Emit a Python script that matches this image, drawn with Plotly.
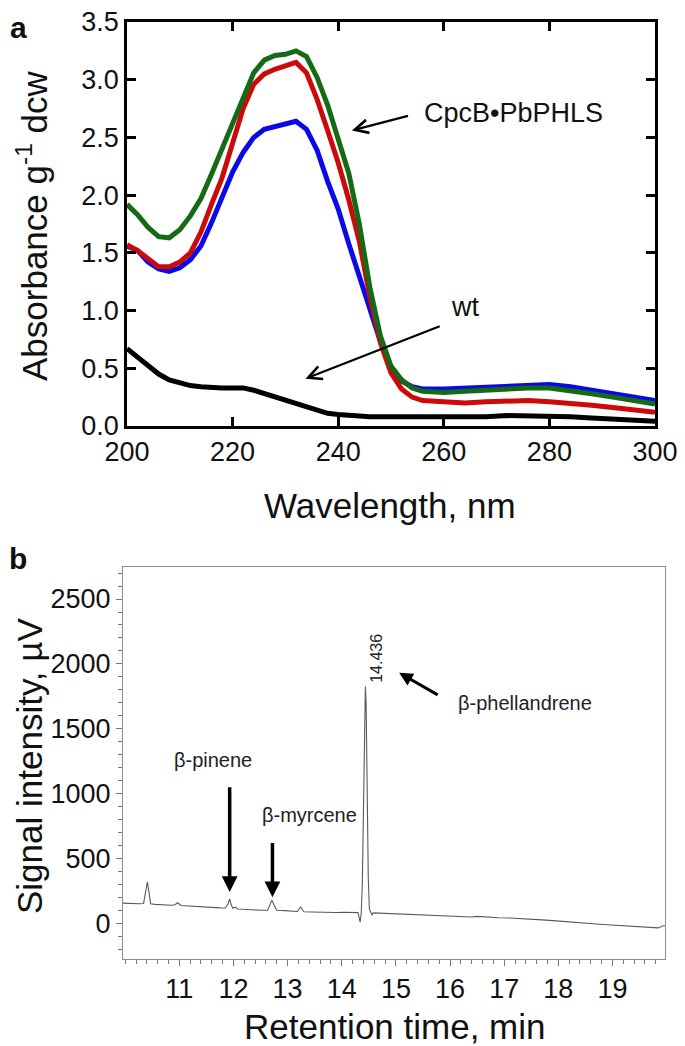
import plotly.graph_objects as go

# ---------------- Panel a data (absorbance spectra) ----------------
wavelength = [200, 202, 204, 206, 208, 210, 212, 214, 216, 218, 220, 222, 224, 226, 228,
              230, 232, 234, 236, 238, 240, 242, 244, 246, 248, 250, 252, 254, 256, 260,
              264, 268, 272, 276, 280, 284, 288, 292, 296, 300]
green_abs = [1.92, 1.83, 1.72, 1.64, 1.63, 1.70, 1.82, 1.97, 2.18, 2.40, 2.62, 2.84, 3.06, 3.17, 3.21,
             3.22, 3.25, 3.20, 3.02, 2.78, 2.50, 2.19, 1.75, 1.20, 0.78, 0.52, 0.40, 0.33, 0.30, 0.29,
             0.30, 0.31, 0.33, 0.33, 0.33, 0.31, 0.28, 0.25, 0.22, 0.19]
red_abs = [1.57, 1.52, 1.45, 1.38, 1.38, 1.42, 1.50, 1.68, 1.92, 2.15, 2.45, 2.75, 2.96, 3.05, 3.09,
           3.12, 3.15, 3.06, 2.83, 2.56, 2.28, 1.96, 1.60, 1.12, 0.72, 0.46, 0.32, 0.25, 0.22, 0.21,
           0.20, 0.21, 0.22, 0.22, 0.21, 0.20, 0.18, 0.16, 0.14, 0.12]
blue_abs = [1.56, 1.52, 1.42, 1.36, 1.34, 1.37, 1.44, 1.56, 1.76, 1.98, 2.20, 2.37, 2.50, 2.57, 2.59,
            2.61, 2.64, 2.57, 2.39, 2.12, 1.88, 1.58, 1.30, 1.00, 0.73, 0.50, 0.39, 0.34, 0.32, 0.32,
            0.33, 0.34, 0.35, 0.36, 0.36, 0.34, 0.31, 0.28, 0.25, 0.22]
wt_abs = [0.67, 0.60, 0.52, 0.45, 0.40, 0.37, 0.35, 0.34, 0.33, 0.33, 0.33, 0.33, 0.31, 0.28, 0.25,
          0.23, 0.20, 0.16, 0.13, 0.11, 0.10, 0.09, 0.09, 0.08, 0.08, 0.08, 0.07, 0.07, 0.07, 0.07,
          0.07, 0.08, 0.09, 0.09, 0.09, 0.08, 0.07, 0.06, 0.05, 0.04]

# ---------------- Panel b data (chromatogram) ----------------
ret_time = [9.95, 10.05, 10.15, 10.25, 10.34, 10.38, 10.41, 10.44, 10.47, 10.55, 10.65, 10.75, 10.85,
            10.92, 10.97, 11.03, 11.15, 11.3, 11.45, 11.6, 11.75, 11.85, 11.9, 11.93, 11.96, 11.99,
            12.03, 12.08, 12.2, 12.35, 12.5, 12.63, 12.68, 12.71, 12.75, 12.8, 12.95, 13.1, 13.18,
            13.24, 13.3, 13.45, 13.6, 13.75, 13.9, 14.05, 14.2, 14.3, 14.34, 14.36, 14.38, 14.40,
            14.42, 14.436, 14.45, 14.47, 14.49, 14.51, 14.54, 14.56, 14.58, 14.7, 14.85, 15.0,
            15.2, 15.4, 15.6, 15.8, 16.0, 16.2, 16.4, 16.5, 16.7, 16.9, 17.1, 17.3, 17.5, 17.7,
            17.9, 18.1, 18.3, 18.5, 18.7, 18.9, 19.1, 19.3, 19.5, 19.65, 19.75, 19.85, 19.92, 19.97]
signal = [155, 152, 150, 150, 152, 250, 318, 240, 150, 145, 142, 140, 138,
          142, 158, 137, 133, 130, 126, 122, 118, 117, 150, 188, 140, 116,
          124, 110, 106, 103, 100, 100, 150, 178, 140, 100, 97, 93, 90,
          126, 88, 86, 84, 86, 83, 85, 82, 82, 8, 80, 300, 1000,
          1650, 1825, 1700, 1000, 350, 110, 84, 62, 80, 78, 74, 70,
          66, 62, 60, 56, 52, 50, 48, 53, 45, 42, 40, 37, 32, 26,
          20, 12, 6, 0, -6, -12, -18, -22, -26, -32, -38, -36, -22, -20]

# ---------------- Axis ticks ----------------
abs_ticks = [0.0, 0.5, 1.0, 1.5, 2.0, 2.5, 3.0, 3.5]
wl_ticks = [200, 220, 240, 260, 280, 300]
sig_ticks = [0, 500, 1000, 1500, 2000, 2500]
rt_ticks = [11, 12, 13, 14, 15, 16, 17, 18, 19]

FONT = "Liberation Sans"
OFF = 8                      # page body margin of the html page
W, H = 685 - OFF, 1046 - OFF

def px(x):
    return (x - OFF) / W

def py(y):
    return 1 - (y - OFF) / H

fig = go.Figure()

for ys, col in [(wt_abs, "#000000"), (blue_abs, "#0a0ae6"), (red_abs, "#cc0a0a"), (green_abs, "#156b15")]:
    fig.add_trace(go.Scatter(x=wavelength, y=ys, mode="lines", line=dict(color=col, width=5),
                             xaxis="x", yaxis="y", showlegend=False, hoverinfo="skip"))

fig.add_trace(go.Scatter(x=ret_time, y=signal, mode="lines", line=dict(color="#5a5a5a", width=1.1),
                         xaxis="x2", yaxis="y2", showlegend=False, hoverinfo="skip"))

tickfont = dict(family=FONT, size=27, color="#111")

fig.update_layout(
    width=W, height=H, margin=dict(l=0, r=0, t=0, b=0, autoexpand=False),
    paper_bgcolor="white", plot_bgcolor="white",
    xaxis=dict(domain=[px(127), px(655)], range=[199.999, 300.001], tickvals=wl_ticks, automargin=False,
               showline=True, linewidth=2.5, linecolor="black", mirror="allticks",
               ticks="inside", ticklen=9, tickwidth=2.5, tickcolor="black", ticklabeloverflow="allow",
               showgrid=False, zeroline=False, tickfont=tickfont, anchor="y"),
    yaxis=dict(domain=[py(426), py(22)], range=[-0.0001, 3.5001], tickvals=abs_ticks, tickformat=".1f",
               automargin=False, ticklabeloverflow="allow",
               showline=True, linewidth=2.5, linecolor="black", mirror="allticks",
               ticks="inside", ticklen=9, tickwidth=2.5, tickcolor="black",
               showgrid=False, zeroline=False, tickfont=tickfont, anchor="x"),
    xaxis2=dict(domain=[px(123), px(665)], range=[9.96, 19.97], tickvals=rt_ticks, automargin=False,
                showline=True, linewidth=1, linecolor="#8c8c8c", mirror=True,
                ticks="outside", ticklen=6, tickwidth=1, tickcolor="#777",
                minor=dict(ticks="outside", dtick=0.2, tick0=10, ticklen=4, tickcolor="#777"),
                showgrid=False, zeroline=False, tickfont=tickfont, anchor="y2"),
    yaxis2=dict(domain=[py(959), py(567)], range=[-276, 2747], tickvals=sig_ticks, automargin=False,
                showline=True, linewidth=1, linecolor="#8c8c8c", mirror=True,
                ticks="outside", ticklen=6, tickwidth=1, tickcolor="#777",
                minor=dict(ticks="outside", dtick=100, tick0=0, ticklen=4, tickcolor="#777"),
                showgrid=False, zeroline=False, tickfont=tickfont, anchor="x2"),
)

def paper_text(text, x, y, size, angle=0, bold=False):
    return dict(text=f"<b>{text}</b>" if bold else text, x=px(x), y=py(y), xref="paper", yref="paper",
                xanchor="center", yanchor="middle", textangle=angle, showarrow=False,
                font=dict(family=FONT, size=size, color="#111"))

ann = []
# panel labels
ann.append(paper_text("a", 18, 27, 30, bold=True))
ann.append(paper_text("b", 18, 558, 30, bold=True))
# axis titles
ann.append(paper_text("Absorbance g<sup>-1</sup> dcw", 32, 226, 35, angle=-90))
ann.append(paper_text("Wavelength, nm", 390, 506, 35))
ann.append(paper_text("Signal intensity, µV", 29, 766, 35, angle=-90))
ann.append(paper_text("Retention time, min", 395, 1026, 35))

# panel a annotations
ann.append(dict(text="CpcB•PbPHLS", x=255.8, y=2.71, xref="x", yref="y", xanchor="left", yanchor="middle",
                showarrow=False, font=dict(family=FONT, size=27, color="#111")))
ann.append(dict(text="", x=242.6, y=2.56, ax=253.5, ay=2.69, xref="x", yref="y", axref="x", ayref="y",
                showarrow=True, arrowhead=5, arrowsize=1.2, arrowwidth=2.2, arrowcolor="black"))
ann.append(dict(text="wt", x=264, y=1.03, xref="x", yref="y", xanchor="center", yanchor="middle",
                showarrow=False, font=dict(family=FONT, size=27, color="#111")))
ann.append(dict(text="", x=233.8, y=0.41, ax=259.5, ay=0.87, xref="x", yref="y", axref="x", ayref="y",
                showarrow=True, arrowhead=5, arrowsize=1.2, arrowwidth=2.2, arrowcolor="black"))

# panel b annotations
small = dict(family=FONT, size=20, color="#222")
ann.append(dict(text="14.436", x=14.65, y=2046, xref="x2", yref="y2", textangle=-90, showarrow=False,
                xanchor="center", yanchor="middle", font=dict(family=FONT, size=16, color="#222")))
ann.append(dict(text="β-phellandrene", x=17.38, y=1700, xref="x2", yref="y2", showarrow=False,
                xanchor="center", yanchor="middle", font=small))
ann.append(dict(text="", x=15.06, y=1931, ax=15.8, ay=1754, xref="x2", yref="y2", axref="x2", ayref="y2",
                showarrow=True, arrowhead=2, arrowsize=0.9, arrowwidth=3, arrowcolor="black"))
ann.append(dict(text="β-pinene", x=11.62, y=1255, xref="x2", yref="y2", showarrow=False,
                xanchor="center", yanchor="middle", font=small))
ann.append(dict(text="", x=11.93, y=240, ax=11.93, ay=1060, xref="x2", yref="y2", axref="x2", ayref="y2",
                showarrow=True, arrowhead=2, arrowsize=0.9, arrowwidth=3.5, arrowcolor="black"))
ann.append(dict(text="β-myrcene", x=13.4, y=838, xref="x2", yref="y2", showarrow=False,
                xanchor="center", yanchor="middle", font=small))
ann.append(dict(text="", x=12.72, y=200, ax=12.72, ay=630, xref="x2", yref="y2", axref="x2", ayref="y2",
                showarrow=True, arrowhead=2, arrowsize=0.9, arrowwidth=3.5, arrowcolor="black"))

fig.update_layout(annotations=ann)
fig.write_html("out.html")
